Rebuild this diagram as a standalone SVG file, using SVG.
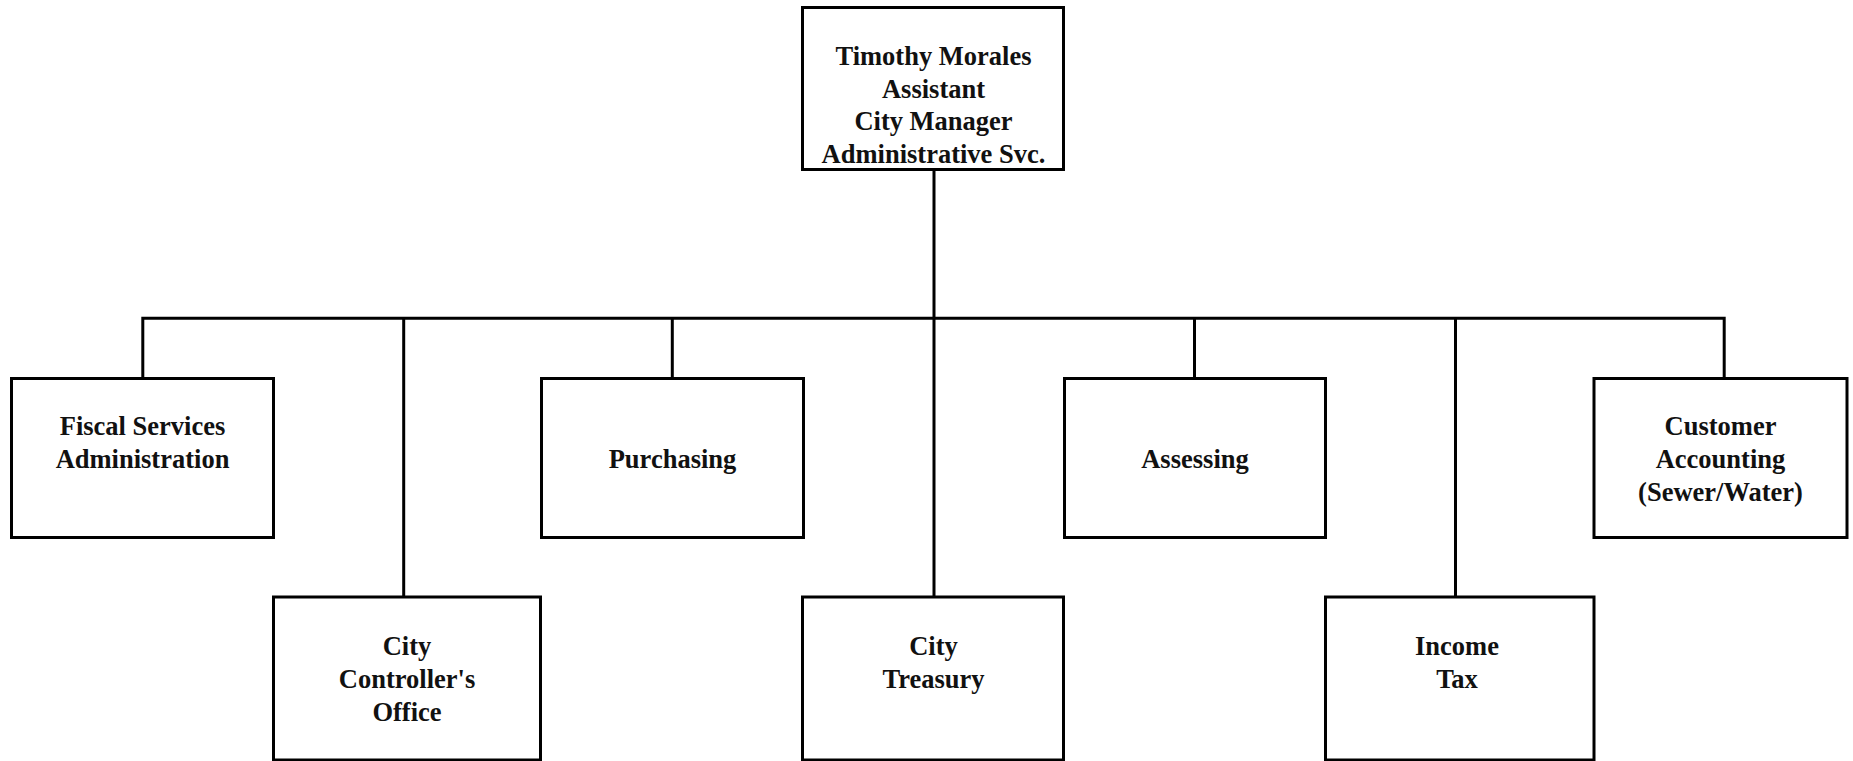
<svg xmlns="http://www.w3.org/2000/svg" width="1853" height="761" viewBox="0 0 1853 761">
  <style>
    .box { fill: #ffffff; stroke: #000000; stroke-width: 3; }
    .wire { fill: none; stroke: #000000; stroke-width: 3; stroke-linejoin: miter; stroke-linecap: butt; }
    .label { font-family: "Liberation Serif", "Times New Roman", serif; font-weight: bold; font-size: 26.5px; fill: #111111; text-anchor: middle; }
  </style>
  <rect width="1853" height="761" fill="#ffffff"/>

  <!-- connectors -->
  <g id="connectors">
    <path class="wire" d="M934 169.5 V597"/>
    <path class="wire" d="M142.8 378.5 V318.3 H1724.2 V378.5"/>
    <path class="wire" d="M403.7 318.3 V597"/>
    <path class="wire" d="M672.3 318.3 V378.5"/>
    <path class="wire" d="M1194.5 318.3 V378.5"/>
    <path class="wire" d="M1455.5 318.3 V597"/>
  </g>

  <!-- head of the division -->
  <g id="node-assistant-city-manager">
    <rect class="box" x="802.5" y="7.5" width="261" height="162"/>
    <text class="label" x="933.5" y="65">Timothy Morales</text>
    <text class="label" x="933.5" y="97.5">Assistant</text>
    <text class="label" x="933.5" y="130">City Manager</text>
    <text class="label" x="933.5" y="162.5">Administrative Svc.</text>
  </g>

  <!-- upper row of units -->
  <g id="node-fiscal-services">
    <rect class="box" x="11.5" y="378.5" width="262" height="159"/>
    <text class="label" x="142.5" y="435">Fiscal Services</text>
    <text class="label" x="142.5" y="468">Administration</text>
  </g>
  <g id="node-purchasing">
    <rect class="box" x="541.5" y="378.5" width="262" height="159"/>
    <text class="label" x="672.5" y="468">Purchasing</text>
  </g>
  <g id="node-assessing">
    <rect class="box" x="1064.5" y="378.5" width="261" height="159"/>
    <text class="label" x="1195" y="468">Assessing</text>
  </g>
  <g id="node-customer-accounting">
    <rect class="box" x="1594" y="378.5" width="253" height="159"/>
    <text class="label" x="1720.5" y="435">Customer</text>
    <text class="label" x="1720.5" y="468">Accounting</text>
    <text class="label" x="1720.5" y="501">(Sewer/Water)</text>
  </g>

  <!-- lower row of units -->
  <g id="node-city-controller">
    <rect class="box" x="273.5" y="597" width="267" height="163"/>
    <text class="label" x="407" y="655">City</text>
    <text class="label" x="407" y="688">Controller's</text>
    <text class="label" x="407" y="721">Office</text>
  </g>
  <g id="node-city-treasury">
    <rect class="box" x="802.5" y="597" width="261" height="163"/>
    <text class="label" x="933.5" y="655">City</text>
    <text class="label" x="933.5" y="688">Treasury</text>
  </g>
  <g id="node-income-tax">
    <rect class="box" x="1325.5" y="597" width="268.5" height="163"/>
    <text class="label" x="1457" y="655">Income</text>
    <text class="label" x="1457" y="688">Tax</text>
  </g>
</svg>
